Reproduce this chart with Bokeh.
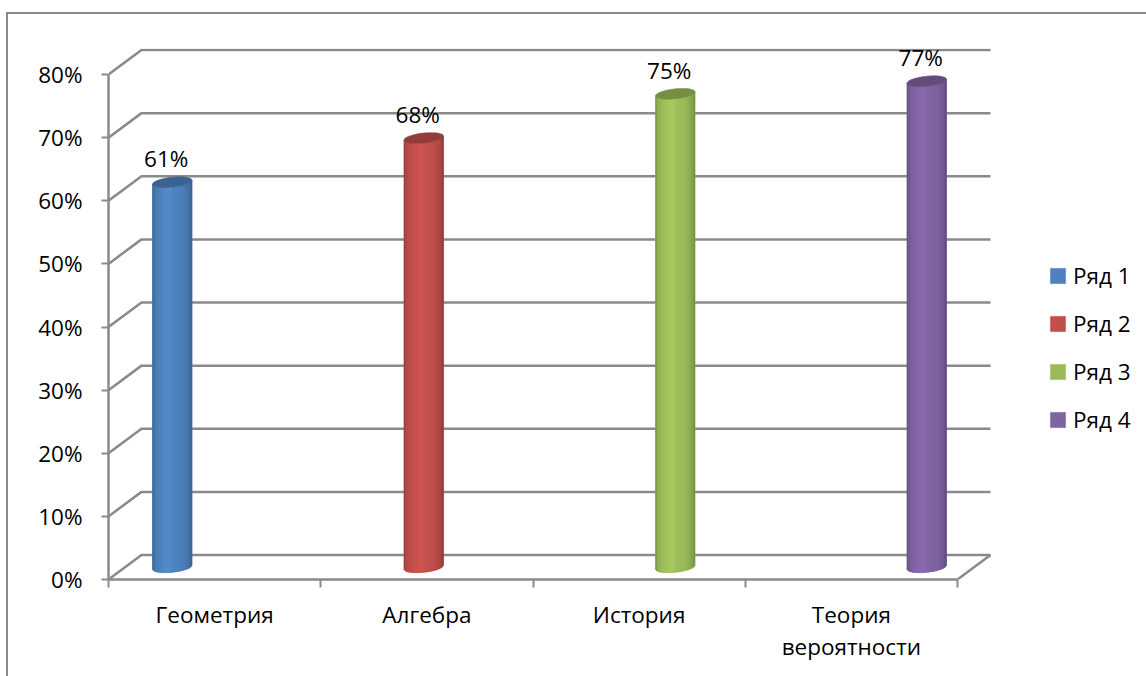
import math
from bokeh.plotting import figure
from bokeh.embed import file_html
from bokeh.resources import INLINE
from bokeh.models import (Range1d, LinearAxis, FixedTicker, Legend, LegendItem,
                          CustomJSTickFormatter, InlineStyleSheet)
from bokeh.core.properties import value

categories = ["Геометрия", "Алгебра", "История", "Теория\nвероятности"]
series_names = ["Ряд 1", "Ряд 2", "Ряд 3", "Ряд 4"]
values = [61, 68, 75, 77]
colors = ["#4f81bd", "#c0504d", "#9bbb59", "#8064a2"]
y_ticks = [0, 10, 20, 30, 40, 50, 60, 70, 80]

FONT = "Open Sans"
FS = "22.5px"
GRID = "#8a8a8a"
W, H = 1146, 676
LEFT, RIGHT, TOP, BOTTOM = 108, 155, 48, 97
px_x = 212.25            # pixels per category
px_y = 6.3125            # pixels per percent
depth_x = 33 / px_x      # oblique depth of the 3D box
depth_y = 24.5 / px_y
n_cat = len(categories)

border_css = InlineStyleSheet(css=""":host::before{content:'';position:absolute;z-index:10;left:6px;top:12px;
right:-20px;bottom:-20px;border-left:2px solid #8a8a8a;border-top:2px solid #8a8a8a;pointer-events:none;}
:host{overflow:hidden;}""")

p = figure(width=W, height=H, output_backend="svg", toolbar_location=None,
           frame_width=W - LEFT - RIGHT, frame_height=H - TOP - BOTTOM,
           x_range=Range1d(0, (W - LEFT - RIGHT) / px_x),
           y_range=Range1d(0, (H - TOP - BOTTOM) / px_y),
           x_axis_location=None, y_axis_location=None,
           min_border_left=LEFT, min_border_right=RIGHT,
           min_border_top=TOP, min_border_bottom=BOTTOM,
           outline_line_color=None, margin=0, stylesheets=[border_css])
p.xgrid.visible = False
p.ygrid.visible = False

# axes
yax = LinearAxis(ticker=FixedTicker(ticks=y_ticks), bounds=(0, 80),
                 formatter=CustomJSTickFormatter(code="return tick + '%'"),
                 axis_line_color=GRID, axis_line_width=2.5,
                 major_tick_line_color=GRID, major_tick_line_width=2,
                 major_tick_out=7, major_tick_in=0, minor_tick_out=0, minor_tick_in=0,
                 major_label_text_font=FONT, major_label_text_font_size=FS,
                 major_label_text_color="#000000", major_label_standoff=19)
p.add_layout(yax, "left")

centers = [i + 0.5 for i in range(n_cat)]
edges = [float(i) for i in range(n_cat + 1)]
xax = LinearAxis(ticker=FixedTicker(ticks=centers, minor_ticks=edges), bounds=(0, n_cat),
                 major_label_overrides={c: l for c, l in zip(centers, categories)},
                 axis_line_color=GRID, axis_line_width=2.5,
                 major_tick_out=0, major_tick_in=0,
                 minor_tick_line_color=GRID, minor_tick_line_width=2,
                 minor_tick_out=8, minor_tick_in=0,
                 major_label_text_font=FONT, major_label_text_font_size=FS,
                 major_label_text_line_height=1.04,
                 major_label_text_color="#000000", major_label_standoff=11)
p.add_layout(xax, "below")

# walls: grid lines run from the front-left axis back and along the rear wall
gx, gy = [], []
for v in y_ticks:
    gx.append([0, depth_x, n_cat + depth_x])
    gy.append([v, v + depth_y, v + depth_y])
gx.append([n_cat, n_cat + depth_x])
gy.append([0, depth_y])
p.multi_line(gx, gy, line_color=GRID, line_width=2.5)


def shade(hex_color, f):
    r, g, b = (int(hex_color[i:i + 2], 16) for i in (1, 3, 5))
    return "#%02x%02x%02x" % (min(255, int(r * f)), min(255, int(g * f)), min(255, int(b * f)))


# cylinders
bar_w = 39.5 / px_x
rx = bar_w / 2
ry = 5.0 / px_y
tilt = 2.0 / px_y
N = 28
items = []
labels_x, labels_y, labels_t = [], [], []
for s, (v, col, name) in enumerate(zip(values, colors, series_names)):
    cx = centers[s] + (s - 1.5) * (39.25 / px_x) + depth_x / 2
    y0 = depth_y / 2
    y1 = v + depth_y / 2
    ts = [-1 + 2 * k / N for k in range(N + 1)]
    front = lambda t, y: y - ry * math.sqrt(max(0, 1 - t * t)) + tilt * t
    # silhouette in the base colour
    sx = [cx + rx * t for t in ts] + [cx + rx * t for t in reversed(ts)]
    sy = [front(t, y0) for t in ts] + [front(t, y1) for t in reversed(ts)]
    base = p.patch(sx, sy, fill_color=col, line_color=col, line_width=0.5)
    items.append(LegendItem(label=name, renderers=[base]))
    # shaded vertical strips
    xs, ys, cols = [], [], []
    for a, b in zip(ts[:-1], ts[1:]):
        m = (a + b) / 2
        prof = 1 - m * m
        f = 0.70 + 0.38 * prof ** 0.4 - (0.05 if m > 0 else 0)
        xs.append([cx + rx * a, cx + rx * b, cx + rx * b, cx + rx * a])
        ys.append([front(a, y0), front(b, y0), front(b, y1), front(a, y1)])
        cols.append(shade(col, f))
    p.patches(xs, ys, fill_color=cols, line_color=cols, line_width=0.4)
    # top cap
    th = [2 * math.pi * k / 40 for k in range(40)]
    p.patch([cx + rx * math.cos(t) for t in th],
            [y1 + ry * math.sin(t) + tilt * math.cos(t) for t in th],
            fill_color=shade(col, 0.76), line_color=shade(col, 0.76), line_width=0.5)
    labels_x.append(cx - 6 / px_x)
    labels_y.append(y1 + ry)
    labels_t.append(f"{v}%")

p.text(labels_x, labels_y, text=labels_t, text_font=value(FONT), text_font_size=FS,
       text_color="#000000", text_align="center", text_baseline="bottom", y_offset=-3)

legend = Legend(items=items, location=(57, 144),
                glyph_width=19, glyph_height=19, spacing=17, label_standoff=6,
                label_text_font=FONT, label_text_font_size=FS, label_text_color="#000000",
                background_fill_alpha=0, border_line_color=None, padding=10, margin=0)
p.add_layout(legend, "right")

open("out.html", "w").write(file_html(p, INLINE))
